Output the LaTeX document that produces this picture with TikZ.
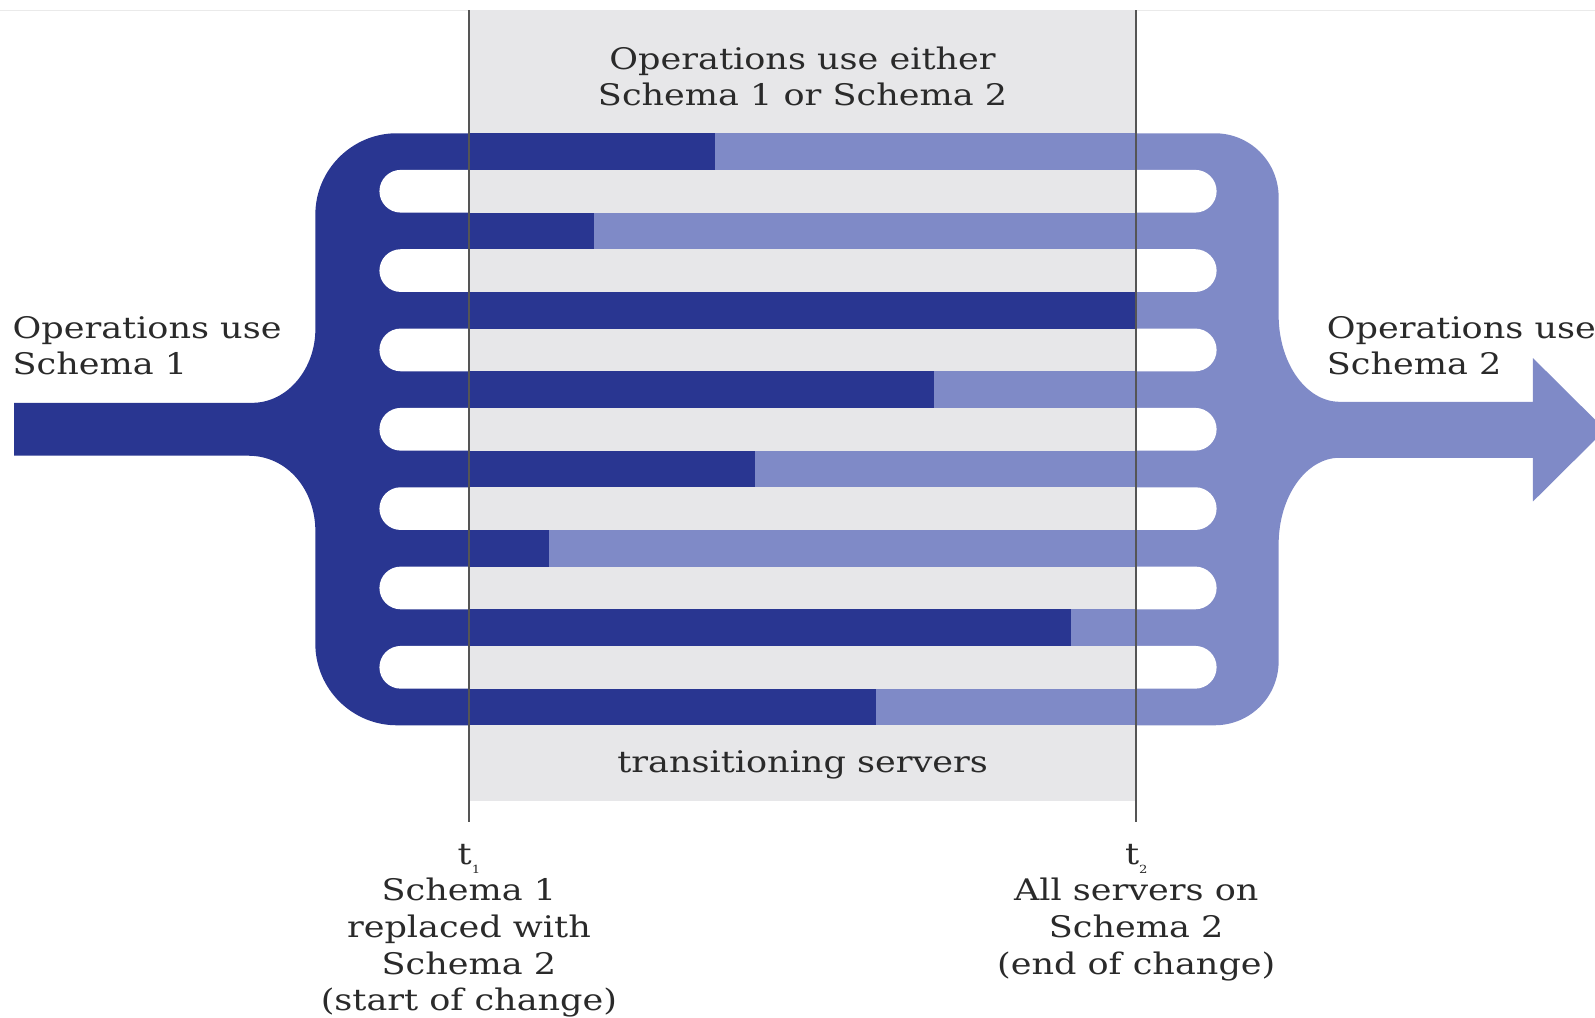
\documentclass[tikz,border=0pt]{standalone}
\usepackage{fontspec}
\setmainfont{DejaVu Serif}[FakeStretch=1.18]
\definecolor{navy}{HTML}{293691}
\definecolor{lite}{HTML}{7F8AC7}
\definecolor{bgray}{HTML}{E7E7E9}
\definecolor{txt}{HTML}{2A2A2A}
\definecolor{vline}{HTML}{555555}
\definecolor{faint}{HTML}{EAEAEA}
\tikzset{
  lbl/.style={text=txt, inner sep=0pt, font=\fontsize{14.6}{18}\selectfont},
  marker/.style={draw=vline, line width=1pt},
  slot/.style={fill=white},
}
\newcommand{\sub}[1]{\raisebox{-0.6ex}{\fontsize{5.5}{5.5}\selectfont #1}}
\begin{document}
\begin{tikzpicture}[x=0.5pt,y=-0.5pt]
\useasboundingbox (0,0) rectangle (1568,1000);
\clip (0,0) rectangle (1568,1000);
\draw[faint, line width=0.6pt] (0,10) -- (1568,10);
% left dark comb with input stem
\fill[navy] (14,396) -- (248,396) .. controls (283,396) and (310,362) .. (310,324)
  -- (310,211) .. controls (310,167) and (346,131) .. (390,131)
  -- (800,131) -- (800,713) -- (390,713)
  .. controls (346,713) and (310,677) .. (310,633)
  -- (310,522) .. controls (310,482) and (283,448) .. (244,448) -- (14,448) -- cycle;
% right light comb with output arrow
\fill[lite] (780,131) -- (1194,131) .. controls (1229,131) and (1257,159) .. (1257,194)
  -- (1257,310) .. controls (1257,357) and (1284,395) .. (1317,395)
  -- (1507,395) -- (1507,352) -- (1578,422.5) -- (1507,493) -- (1507,450)
  -- (1317,450) .. controls (1284,450) and (1257,488) .. (1257,535)
  -- (1257,650) .. controls (1257,685) and (1229,713) .. (1194,713)
  -- (780,713) -- cycle;
% gray transition band
\fill[bgray] (461,10) rectangle (1117,787);
% server bars: top y and split x
\foreach \i/\s in {0/703,1/584,2/1117,3/918,4/742,5/540,6/1053,7/861}{
  \pgfmathsetmacro{\t}{131+78*\i}
  \fill[navy] (461,\t) rectangle (\s,\t+36);
  \fill[lite] (\s,\t) rectangle (1117,\t+36);
}
% slots
\foreach \i in {0,...,6}{
  \pgfmathsetmacro{\t}{167+78*\i}
  \fill[slot] (461,\t) -- (394,\t) arc[start angle=270, end angle=90, radius=21] -- (461,\t+42) -- cycle;
  \fill[slot] (1117,\t) -- (1175,\t) arc[start angle=-90, end angle=90, radius=21] -- (1117,\t+42) -- cycle;
}
% time markers
\coordinate (t1top) at (461,10);
\coordinate (t1bot) at (461,808);
\coordinate (t2top) at (1117,10);
\coordinate (t2bot) at (1117,808);
\draw[marker] (t1top) -- (t1bot);
\draw[marker] (t2top) -- (t2bot);
% labels
\node[lbl, align=center] (either) at (789,75) {Operations use either\\Schema 1 or Schema 2};
\node[lbl, align=left, anchor=west] (in) at (12,340) {Operations use\\Schema 1};
\node[lbl, align=left, anchor=west] (out) at (1304,340) {Operations use\\Schema 2};
\node[lbl] (trans) at (789,752) {transitioning servers};
\node[lbl, align=center] (t1) at (461,915) {t\sub{1}\\Schema 1\\replaced with\\Schema 2\\(start of change)};
\node[lbl, align=center] (t2) at (1117,897) {t\sub{2}\\All servers on\\Schema 2\\(end of change)};
\end{tikzpicture}
\end{document}
